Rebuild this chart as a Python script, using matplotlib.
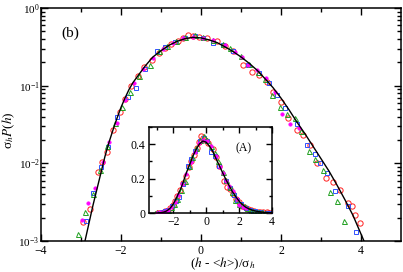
import numpy as np
import matplotlib
matplotlib.use("Agg")
import matplotlib.pyplot as plt
from matplotlib.ticker import LogLocator, NullFormatter, FixedLocator

plt.rcParams['font.family'] = ['Liberation Serif', 'DejaVu Serif']
plt.rcParams['mathtext.fontset'] = 'stix'

# theory curve (x, log10 of sigma*P)
curve_x = [-2.9, -2.8, -2.7, -2.6, -2.5, -2.4, -2.3, -2.2, -2.1, -2.0, -1.9, -1.8,
           -1.7, -1.6, -1.5, -1.4, -1.2, -1.0, -0.8, -0.6, -0.4, -0.2, 0.0, 0.2,
           0.4, 0.6, 0.8, 1.0, 1.2, 1.4, 1.6, 1.8, 2.0, 2.2, 2.4, 2.6, 2.8, 3.0,
           3.2, 3.4, 3.6, 3.8, 4.0, 4.1]
curve_log = [-3.00, -2.77, -2.54, -2.33, -2.12, -1.91, -1.73, -1.57, -1.42, -1.28, -1.16, -1.05,
             -0.96, -0.89, -0.82, -0.75, -0.63, -0.55, -0.48, -0.43, -0.395, -0.378, -0.385, -0.41,
             -0.445, -0.50, -0.56, -0.63, -0.71, -0.80, -0.91, -1.025, -1.16, -1.31, -1.47, -1.62, -1.78, -1.94,
             -2.10, -2.28, -2.47, -2.67, -2.91, -3.03]

# data sets (x, log10 of sigma*P)
red_x = [-2.94, -2.78, -2.57, -2.48, -2.36, -2.19, -2.03, -1.90, -1.75, -1.57, -1.42, -1.23,
         -1.05, -0.90, -0.75, -0.58, -0.45, -0.32, -0.20, -0.05, 0.14, 0.39, 0.60, 0.80,
         1.06, 1.27, 1.45, 1.64, 1.81, 2.00, 2.18, 2.39, 2.56, 2.73, 2.89, 3.12, 3.29,
         3.48, 3.68, 3.77, 3.85, 3.98]
red_log = [-2.75, -2.59, -2.11, -1.98, -1.85, -1.57, -1.34, -1.17, -1.00, -0.88, -0.76, -0.67,
           -0.575, -0.52, -0.47, -0.42, -0.385, -0.35, -0.36, -0.37, -0.39, -0.43, -0.49, -0.56,
           -0.73, -0.82, -0.86, -0.95, -1.08, -1.21, -1.42, -1.57, -1.63, -1.76, -2.00, -2.19, -2.24,
           -2.34, -2.51, -2.55, -2.67, -2.77]

blue_x = [-2.875, -2.69, -2.50, -2.32, -2.10, -1.82, -1.63, -1.40, -1.11, -0.90, -0.65, -0.40,
          -0.15, 0.05, 0.31, 0.55, 0.80, 1.18, 1.45, 1.70, 1.90, 2.10, 2.40, 2.64, 2.85,
          2.975, 3.15, 3.35, 3.68, 3.875]
blue_log = [-2.74, -2.38, -2.05, -1.79, -1.40, -1.14, -1.03, -0.78, -0.56, -0.50, -0.44, -0.38,
            -0.36, -0.38, -0.45, -0.48, -0.56, -0.73, -0.84, -0.97, -1.12, -1.29, -1.50, -1.76, -1.88,
            -2.00, -2.12, -2.36, -2.55, -2.88]

green_x = [-3.08, -2.90, -2.69, -2.52, -2.34, -2.15, -1.98, -1.78, -1.55, -1.28, -1.05, -0.86,
           -0.62, -0.40, -0.15, 0.05, 0.30, 0.55, 0.73, 1.00, 1.20, 1.43, 1.60, 1.77, 1.98,
           2.15, 2.35, 2.50, 2.71, 2.85, 3.06, 3.225, 3.39, 3.575]
green_log = [-2.91, -2.63, -2.39, -2.09, -1.78, -1.48, -1.27, -1.08, -0.87, -0.73, -0.56, -0.485,
             -0.42, -0.37, -0.35, -0.37, -0.41, -0.46, -0.52, -0.62, -0.72, -0.82, -0.92, -1.12, -1.27,
             -1.36, -1.42, -1.58, -1.84, -1.95, -2.09, -2.37, -2.48, -2.74]

mag_x = [-2.98, -2.82, -2.65, -2.45, -2.30, -2.11, -1.90, -1.68, -1.44, -1.20, -0.95, -0.70,
         -0.45, -0.20, 0.05, 0.31, 0.60, 0.85, 1.02, 1.18, 1.40, 1.62, 1.85, 2.02, 2.23, 2.45]
mag_log = [-2.73, -2.51, -2.32, -1.98, -1.72, -1.48, -1.18, -0.97, -0.78, -0.64, -0.53, -0.45,
           -0.39, -0.37, -0.38, -0.41, -0.48, -0.57, -0.63, -0.73, -0.80, -0.90, -1.08, -1.36, -1.49, -1.55]

curve_y = 10 ** np.array(curve_log)
red_y = 10 ** np.array(red_log)
blue_y = 10 ** np.array(blue_log)
green_y = 10 ** np.array(green_log)
mag_y = 10 ** np.array(mag_log)

fig = plt.figure(figsize=(4.03, 2.72), dpi=100)
ax = fig.add_axes([0.1017, 0.114, 0.8933, 0.8566])
ins = fig.add_axes([0.3685, 0.2169, 0.3065, 0.316])


def draw(a):
    a.plot(red_x, red_y, 'o', mfc='none', mec='#ff2020', ms=3.8, mew=0.7)
    a.plot(blue_x, blue_y, 's', mfc='none', mec='#3050ff', ms=3.3, mew=0.7)
    a.plot(green_x, green_y, '^', mfc='none', mec='#20a020', ms=3.6, mew=0.7)
    a.plot(mag_x, mag_y, 'o', mfc='#ff00ff', mec='#ff00ff', ms=2.6, mew=0.3)
    a.plot(curve_x, curve_y, '-', color='black', lw=1.0)


draw(ax)
ax.set_yscale('log')
ax.set_xlim(-4, 5)
ax.set_ylim(1e-3, 1)
ax.xaxis.set_major_locator(FixedLocator([-4, -2, 0, 2, 4]))
ax.xaxis.set_minor_locator(FixedLocator([-3, -1, 1, 3]))
ax.yaxis.set_major_locator(LogLocator(base=10, numticks=10))
ax.yaxis.set_minor_locator(LogLocator(base=10, subs=np.arange(2, 10), numticks=10))
ax.yaxis.set_minor_formatter(NullFormatter())
ax.tick_params(which='both', direction='in', top=True, right=True, width=1.0)
ax.tick_params(axis='x', pad=3, labelsize=8.5)
ax.tick_params(axis='y', pad=1, labelsize=8)
ax.tick_params(which='major', length=5)
ax.tick_params(which='minor', length=3)
ax.set_xlabel(r'($h$ - <$h$>)/σ$_h$', fontsize=9.5)
ax.xaxis.set_label_coords(0.505, -0.064)
ax.set_ylabel(r'σ$_h$$P$($h$)', fontsize=9.5)
ax.yaxis.set_label_coords(-0.068, 0.476)
ax.text(-3.27, 10 ** -0.32, '(b)', fontsize=11, ha='center', va='center')
for s in ax.spines.values():
    s.set_linewidth(1.1)

draw(ins)
ins.set_xlim(-3.5, 4)
ins.set_ylim(0, 0.5)
ins.xaxis.set_major_locator(FixedLocator([-2, 0, 2, 4]))
ins.xaxis.set_minor_locator(FixedLocator([-3, -1, 1, 3]))
ins.yaxis.set_major_locator(FixedLocator([0, 0.2, 0.4]))
ins.yaxis.set_minor_locator(FixedLocator([0.1, 0.3, 0.5]))
ins.set_yticklabels(['0', '0.2', '0.4'])
ins.tick_params(which='both', direction='in', top=True, right=True, labelsize=8.5, width=1.0, pad=2)
ins.tick_params(which='major', length=4)
ins.tick_params(which='minor', length=2.5)
ins.text(2.29, 0.377, '(A)', fontsize=8.5, ha='center', va='center')
for s in ins.spines.values():
    s.set_linewidth(1.1)

fig.savefig('out.png', dpi=100)
